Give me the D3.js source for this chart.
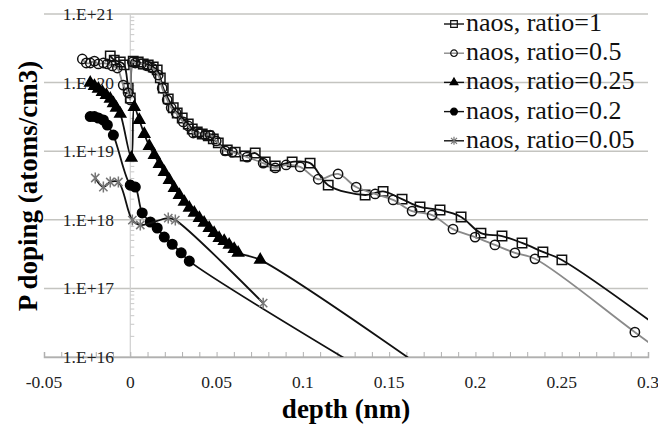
<!DOCTYPE html>
<html>
<head>
<meta charset="utf-8">
<script src="https://cdn.jsdelivr.net/npm/d3@7"></script>
<style>
body { margin: 0; background: #fff; }
svg text { font-family: "Liberation Serif", "Times New Roman", serif; }
</style>
</head>
<body>
<script>
/* data: depth (nm) and P doping (atoms/cm3) */
var depth1 = [-0.0116,-0.0093,-0.0058,-0.0035,-0.0012,0.0000,0.0017,0.0046,0.0075,0.0104,0.0133,0.0156,0.0174,0.0191,0.0220,0.0249,0.0272,0.0301,0.0336,0.0359,0.0388,0.0417,0.0452,0.0481,0.0510,0.0562,0.0608,0.0666,0.0724,0.0782,0.0840,0.0938,0.1042,0.1147,0.1361,0.1465,0.1575,0.1679,0.1795,0.1917,0.2032,0.2154,0.2270,0.2391,0.2501,0.3202];
var dop1 = [2.44e20,2.13e20,2.00e20,1.81e20,8.3e19,5.97e19,2.06e20,2.00e20,1.87e20,1.81e20,1.69e20,1.53e20,1.17e20,8.3e19,5.8e19,4.3e19,3.6e19,3.05e19,2.49e19,2.11e19,1.91e19,1.78e19,1.67e19,1.51e19,1.32e19,1.04e19,9.7e18,8.5e18,9.4e18,7.0e18,6.1e18,7.0e18,6.7e18,3.2e18,2.3e18,2.6e18,2.0e18,1.54e18,1.39e18,1.10e18,6.4e17,5.8e17,4.6e17,3.4e17,2.6e17,1.5e16];

var depth05 = [-0.0278,-0.0255,-0.0232,-0.0208,-0.0185,-0.0156,-0.0133,-0.0104,-0.0075,-0.0041,-0.0012,0.0000,0.0012,0.0029,0.0064,0.0098,0.0127,0.0162,0.0185,0.0214,0.0237,0.0266,0.0307,0.0336,0.0365,0.0400,0.0434,0.0463,0.0498,0.0550,0.0591,0.0677,0.0770,0.0840,0.0903,0.0984,0.1089,0.1204,0.1309,0.1419,0.1523,0.1633,0.1749,0.1870,0.1998,0.2113,0.2229,0.2345,0.2924,0.3202];
var dop05 = [2.21e20,1.93e20,1.93e20,2.06e20,1.87e20,1.93e20,1.87e20,1.75e20,1.63e20,9.2e19,7.05e19,5.6e19,2.00e20,1.93e20,1.87e20,1.75e20,1.63e20,1.29e20,8.3e19,5.6e19,4.3e19,3.6e19,2.67e19,2.33e19,1.84e19,1.84e19,1.72e19,1.72e19,1.41e19,1.01e19,9.7e18,8.2e18,6.7e18,5.7e18,6.3e18,5.9e18,3.9e18,4.66e18,3.0e18,2.38e18,1.95e18,1.34e18,1.17e18,7.3e17,5.6e17,4.3e17,3.3e17,2.7e17,2.3e16,7.1e15];

var depth025 = [-0.0232,-0.0208,-0.0185,-0.0162,-0.0139,-0.0116,-0.0098,-0.0081,-0.0058,0.0006,0.0023,0.0052,0.0081,0.0110,0.0139,0.0168,0.0197,0.0226,0.0255,0.0284,0.0313,0.0342,0.0371,0.0400,0.0428,0.0457,0.0486,0.0515,0.0544,0.0573,0.0602,0.0625,0.0753,0.2000];
var dop025 = [9.9e19,8.9e19,8.1e19,7.3e19,6.6e19,5.8e19,5.0e19,4.3e19,3.5e19,8.0e18,4.4e19,2.85e19,1.78e19,1.19e19,8.8e18,6.5e18,4.98e18,3.8e18,2.9e18,2.3e18,1.82e18,1.49e18,1.26e18,1.06e18,9.0e17,7.6e17,6.4e17,5.4e17,4.9e17,4.3e17,3.75e17,3.3e17,2.6e17,2.0e15];

var depth02 = [-0.0232,-0.0208,-0.0185,-0.0156,-0.0133,-0.0098,0.0000,0.0029,0.0069,0.0116,0.0156,0.0197,0.0243,0.0295,0.0342,0.1500];
var dop02 = [3.2e19,3.2e19,3.05e19,2.85e19,2.41e19,1.72e19,3.2e18,3.0e18,1.26e18,9.3e17,7.6e17,5.6e17,4.4e17,3.3e17,2.5e17,3.9e15];

var depth005 = [-0.0203,-0.0156,-0.0116,-0.0069,0.0012,0.0058,0.0220,0.0261,0.0770];
var dop005 = [4.07e18,3.0e18,3.56e18,3.56e18,9.9e17,8.4e17,1.06e18,9.9e17,6.1e16];

var seriesNames = ["naos, ratio=1","naos, ratio=0.5","naos, ratio=0.25","naos, ratio=0.2","naos, ratio=0.05"];
var xTicks = [-0.05,0,0.05,0.1,0.15,0.2,0.25,0.3];
var xTickLabels = ["-0.05","0","0.05","0.1","0.15","0.2","0.25","0.3"];
var yTicks = [1e16,1e17,1e18,1e19,1e20,1e21];
var yTickLabels = ["1.E+16","1.E+17","1.E+18","1.E+19","1.E+20","1.E+21"];

var width = 658, height = 429;
var plotLeft = 44, plotRight = 648, plotTop = 14, plotBottom = 357;
var serif = "'Liberation Serif', 'Times New Roman', serif";

var svg = d3.select("body").append("svg")
    .attr("width", width)
    .attr("height", height);

var x = d3.scaleLinear().domain([-0.05, 0.3]).range([plotLeft, plotRight]);
var y = d3.scaleLog().domain([1e16, 1e21]).range([plotBottom, plotTop]);

/* clip for plot area */
svg.append("clipPath").attr("id", "plotclip")
    .append("rect")
    .attr("x", plotLeft).attr("y", plotTop - 6)
    .attr("width", plotRight - plotLeft).attr("height", plotBottom - plotTop + 6);

/* gridlines */
svg.selectAll(".grid").data(yTicks).enter().append("line")
    .attr("class", "grid")
    .attr("x1", plotLeft).attr("x2", plotRight)
    .attr("y1", function(d){ return y(d); })
    .attr("y2", function(d){ return y(d); })
    .attr("stroke", "#c4c4c0")
    .attr("stroke-width", 1.5);

/* vertical axis at depth 0 with log minor ticks */
svg.append("line")
    .attr("x1", x(0)).attr("x2", x(0))
    .attr("y1", plotTop).attr("y2", plotBottom)
    .attr("stroke", "#cfcfcf")
    .attr("stroke-width", 1.2);

var minor = [];
yTicks.slice(0, 5).forEach(function(t){
    for (var k = 2; k < 10; k++) minor.push(t * k);
});
svg.selectAll(".ymin").data(minor).enter().append("line")
    .attr("x1", x(0)).attr("x2", x(0) + 4)
    .attr("y1", function(d){ return y(d); })
    .attr("y2", function(d){ return y(d); })
    .attr("stroke", "#c8c8c8")
    .attr("stroke-width", 1);

/* bottom axis */
var xaxis = svg.append("g")
    .attr("transform", "translate(0," + plotBottom + ")")
    .call(d3.axisTop(x).tickValues(d3.range(-5, 31).map(function(i){ return i / 100; }))
          .tickSize(5).tickFormat(""));
xaxis.select(".domain").attr("stroke", "#b0b0b0").attr("stroke-width", 1.5);
xaxis.selectAll(".tick line").attr("stroke", "#b0b0b0");

svg.selectAll(".xlab").data(xTicks).enter().append("text")
    .attr("x", function(d){ return x(d); })
    .attr("y", 388)
    .attr("text-anchor", "middle")
    .attr("font-family", serif)
    .attr("font-size", 17.5)
    .attr("fill", "#222")
    .text(function(d, i){ return xTickLabels[i]; });

svg.selectAll(".ylab").data(yTicks).enter().append("text")
    .attr("x", 114)
    .attr("y", function(d){ return y(d) + 6; })
    .attr("text-anchor", "end")
    .attr("font-family", serif)
    .attr("font-size", 17.5)
    .attr("fill", "#222")
    .text(function(d, i){ return yTickLabels[i]; });

/* axis titles */
svg.append("text")
    .attr("x", 346).attr("y", 418)
    .attr("text-anchor", "middle")
    .attr("font-family", serif)
    .attr("font-size", 27)
    .attr("font-weight", "bold")
    .text("depth (nm)");

svg.append("text")
    .attr("transform", "translate(37,186) rotate(-90)")
    .attr("text-anchor", "middle")
    .attr("font-family", serif)
    .attr("font-size", 27)
    .attr("font-weight", "bold")
    .text("P doping (atoms/cm3)");

/* series */
var line = d3.line()
    .x(function(d){ return x(d[0]); })
    .y(function(d){ return y(d[1]); })
    .curve(d3.curveCatmullRom.alpha(0.5));

function star(r){
    var q = r * 0.75;
    return "M0," + (-r) + "L0," + r + "M" + (-q) + "," + (-q) + "L" + q + "," + q +
        "M" + (-q) + "," + q + "L" + q + "," + (-q);
}

var series = [
    {xs: depth1, ys: dop1, line: "#111", sym: d3.symbolSquare, size: 88, fill: "none", mstroke: "#111"},
    {xs: depth05, ys: dop05, line: "#8a8a8a", sym: d3.symbolCircle, size: 68, fill: "none", mstroke: "#111"},
    {xs: depth025, ys: dop025, line: "#111", sym: d3.symbolTriangle, size: 52, fill: "#000", mstroke: "#000"},
    {xs: depth02, ys: dop02, line: "#111", sym: d3.symbolCircle, size: 72, fill: "#000", mstroke: "#000"},
    {xs: depth005, ys: dop005, line: "#111", sym: null, size: 5.5, fill: "none", mstroke: "#777"}
];

var plot = svg.append("g").attr("clip-path", "url(#plotclip)");

series.forEach(function(s){
    var pts = s.xs.map(function(d, i){ return [d, s.ys[i]]; });
    plot.append("path")
        .attr("d", line(pts))
        .attr("fill", "none")
        .attr("stroke", s.line)
        .attr("stroke-width", 1.8);
    plot.selectAll(null).data(pts).enter().append("path")
        .attr("transform", function(d){ return "translate(" + x(d[0]) + "," + y(d[1]) + ")"; })
        .attr("d", s.sym ? d3.symbol().type(s.sym).size(s.size)() : star(s.size))
        .attr("fill", s.fill)
        .attr("stroke", s.mstroke)
        .attr("stroke-width", 1.5);
});

/* legend */
seriesNames.forEach(function(name, i){
    var s = series[i];
    var by = 31 + i * 29.2;
    var cy = by - 7;
    svg.append("line")
        .attr("x1", 444).attr("x2", 464)
        .attr("y1", cy).attr("y2", cy)
        .attr("stroke", s.line)
        .attr("stroke-width", 1.4);
    svg.append("path")
        .attr("transform", "translate(454," + cy + ")")
        .attr("d", s.sym ? d3.symbol().type(s.sym).size(s.size * 0.5)() : star(4))
        .attr("fill", s.fill)
        .attr("stroke", s.mstroke)
        .attr("stroke-width", 1.2);
    svg.append("text")
        .attr("x", 466).attr("y", by)
        .attr("font-family", serif)
        .attr("font-size", 26)
        .attr("fill", "#111")
        .text(name);
});
</script>
</body>
</html>
